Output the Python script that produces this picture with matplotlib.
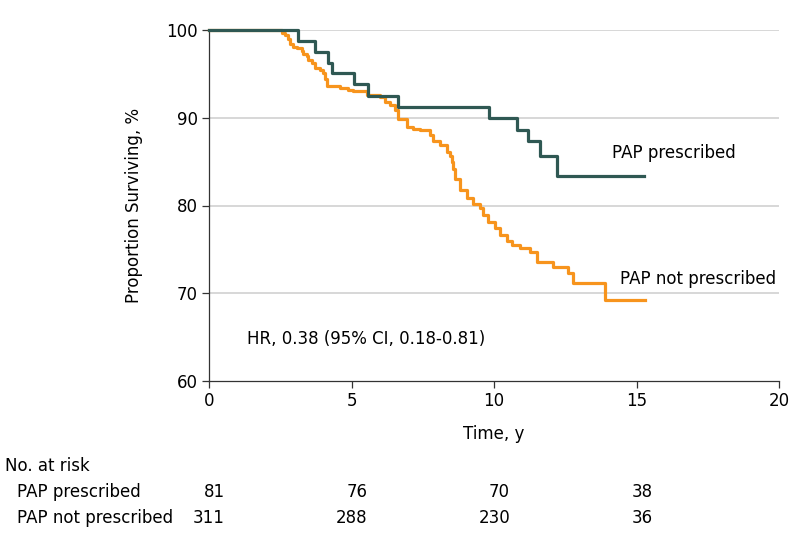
import matplotlib.pyplot as plt
from matplotlib.transforms import offset_copy, blended_transform_factory

plt.rcParams['font.family'] = ['DejaVu Sans']

GREEN = '#2f5853'
ORANGE = '#f7941d'

# PAP prescribed
pres_t = [0, 3.13, 3.73, 4.17, 4.3, 5.1, 5.58, 6.63, 9.82, 10.82, 11.19, 11.6, 12.22, 15.27]
pres_s = [100, 98.8, 97.5, 96.2, 95.1, 93.8, 92.5, 91.2, 90.0, 88.6, 87.3, 85.6, 83.4, 83.4]

# PAP not prescribed
notp_t = [0, 2.55, 2.67, 2.78, 2.84, 2.96, 3.08, 3.25, 3.31, 3.43, 3.49, 3.6, 3.72, 3.89,
          4.01, 4.07, 4.13, 4.6, 4.89, 5.06, 5.53, 6.0, 6.18, 6.35, 6.53, 6.64, 6.94, 7.17,
          7.4, 7.75, 7.87, 8.1, 8.34, 8.46, 8.52, 8.57, 8.63, 8.81, 9.04, 9.27, 9.5, 9.62,
          9.8, 10.04, 10.2, 10.45, 10.62, 10.91, 11.26, 11.5, 12.08, 12.61, 12.78, 13.9, 15.3]
notp_s = [100, 99.7, 99.4, 99.0, 98.4, 98.1, 97.9, 97.6, 97.3, 97.0, 96.6, 96.2, 95.7, 95.4,
          95.1, 94.4, 93.6, 93.35, 93.2, 93.0, 92.6, 92.4, 91.8, 91.4, 90.9, 89.9, 89.0, 88.7,
          88.6, 88.0, 87.3, 86.9, 86.1, 85.6, 85.0, 84.2, 83.0, 81.8, 80.8, 80.2, 79.7, 78.9,
          78.1, 77.4, 76.6, 76.0, 75.5, 75.1, 74.7, 73.6, 73.0, 72.3, 71.2, 69.2, 69.2]

risk_times = [0, 5, 10, 15]
risk_pres = [81, 76, 70, 38]
risk_notp = [311, 288, 230, 36]

fig = plt.figure(figsize=(7.98, 5.46), dpi=100)
ax = fig.add_axes([209 / 798, 1 - 381 / 546, 570 / 798, 351 / 546])

for yv in [70, 80, 90, 100]:
    ax.axhline(yv, color='#d4d4d4', lw=1.3, zorder=0)

ax.step(notp_t, notp_s, where='post', color=ORANGE, lw=2.3, clip_on=False, zorder=3)
ax.step(pres_t, pres_s, where='post', color=GREEN, lw=2.3, clip_on=False, zorder=4)

ax.set_xlim(0, 20)
ax.set_ylim(60, 100)
ax.set_xticks([0, 5, 10, 15, 20])
ax.set_yticks([60, 70, 80, 90, 100])
ax.tick_params(labelsize=12, length=5, width=0.9, color='#333333', pad=3)
for side in ['top', 'right']:
    ax.spines[side].set_visible(False)
for side in ['left', 'bottom']:
    ax.spines[side].set_color('#333333')
    ax.spines[side].set_linewidth(0.9)

ax.set_ylabel('Proportion Surviving, %', fontsize=12)
ax.yaxis.set_label_coords(-0.116, 0.5)
ax.set_xlabel('Time, y', fontsize=12)
ax.xaxis.set_label_coords(0.5, -0.124)

ax.text(14.14, 86.0, 'PAP prescribed', fontsize=12, va='center')
ax.text(14.42, 71.6, 'PAP not prescribed', fontsize=12, va='center')
ax.text(1.33, 64.8, 'HR, 0.38 (95% CI, 0.18-0.81)', fontsize=12, va='center')

# number at risk table
fig.text(5 / 798, 1 - 466 / 546, 'No. at risk', fontsize=12, va='center')
fig.text(17 / 798, 1 - 492 / 546, 'PAP prescribed', fontsize=12, va='center')
fig.text(17 / 798, 1 - 518 / 546, 'PAP not prescribed', fontsize=12, va='center')
base = blended_transform_factory(ax.transData, fig.transFigure)
tr = offset_copy(base, fig=fig, x=16, y=0, units='dots')
for t, a, b in zip(risk_times, risk_pres, risk_notp):
    ax.text(t, 1 - 492 / 546, str(a), transform=tr, fontsize=12, ha='right', va='center')
    ax.text(t, 1 - 518 / 546, str(b), transform=tr, fontsize=12, ha='right', va='center')

fig.savefig('out.png', dpi=100)
